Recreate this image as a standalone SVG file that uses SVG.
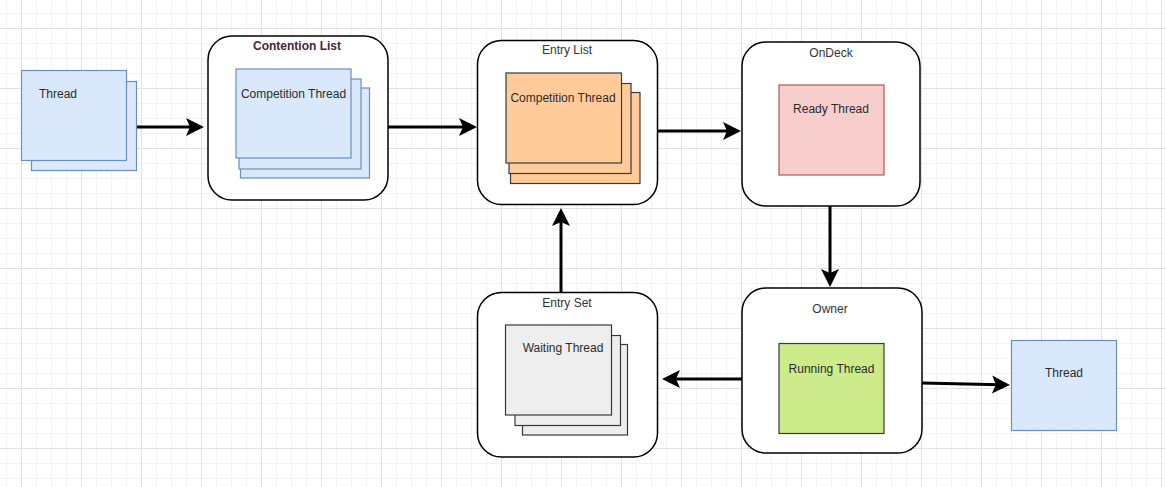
<svg xmlns="http://www.w3.org/2000/svg" width="1166" height="487" viewBox="0 0 1166 487">
<style>
text{font-family:"Liberation Sans",Arial,sans-serif;font-size:12px;fill:#2b2b2b;text-anchor:middle}
.title{fill:#333333}
.bold{font-weight:bold;fill:#4f2238}
.box{fill:#ffffff;stroke:#000000;stroke-width:1.5}
.blue{fill:#dae8fc;stroke:#6c8ebf;stroke-width:1.2}
.orange{fill:#ffcc99;stroke:#36393d;stroke-width:1.2}
.grey{fill:#eeeeee;stroke:#36393d;stroke-width:1.2}
.red{fill:#f8cecc;stroke:#b85450;stroke-width:1.2}
.green{fill:#cdeb8b;stroke:#36393d;stroke-width:1.2}
.edge{fill:none;stroke:#000000;stroke-width:3;marker-end:url(#arr)}
</style>
<defs>
<pattern id="grid" x="21" y="28" width="60" height="60" patternUnits="userSpaceOnUse">
<path d="M15.5 0V60M30.5 0V60M45.5 0V60M0 15.5H60M0 30.5H60M0 45.5H60" stroke="#f3f3f3" stroke-width="1" fill="none"/>
<path d="M0.5 0V60M0 0.5H60" stroke="#e2e2e2" stroke-width="1" fill="none"/>
</pattern>
<marker id="arr" markerUnits="userSpaceOnUse" markerWidth="20" markerHeight="20" refX="8" refY="9" orient="auto" overflow="visible">
<path d="M0,0 L18,9 L0,18 L4,9 z" fill="#000000"/>
</marker>
</defs>
<rect width="1166" height="487" fill="#ffffff"/>
<rect width="1166" height="487" fill="url(#grid)"/>

<g id="connectors">
<line class="edge" x1="137" y1="127" x2="194" y2="127"/>
<line class="edge" x1="388" y1="127" x2="467" y2="127"/>
<line class="edge" x1="658" y1="131" x2="731" y2="131"/>
<line class="edge" x1="830" y1="206" x2="830" y2="277"/>
<line class="edge" x1="561" y1="292" x2="561" y2="218"/>
<line class="edge" x1="742" y1="379" x2="672" y2="379"/>
<line class="edge" x1="922" y1="383" x2="1000" y2="384.8"/>
</g>

<g id="thread-left">
<rect class="blue" x="31.5" y="81.5" width="105" height="89"/>
<rect class="blue" x="21.5" y="70.5" width="105" height="90"/>
<text x="58" y="97.5">Thread</text>
</g>

<g id="contention-list">
<rect class="box" x="208" y="36" width="180" height="164" rx="24" ry="24"/>
<text class="bold" x="297" y="50">Contention List</text>
<rect class="blue" x="240.5" y="88" width="129" height="90"/>
<rect class="blue" x="239" y="79" width="122" height="90"/>
<rect class="blue" x="236" y="69" width="115" height="89"/>
<text x="293.5" y="97.5">Competition Thread</text>
</g>

<g id="entry-list">
<rect class="box" x="477.5" y="40.5" width="180" height="164" rx="24" ry="24"/>
<text class="title" x="567" y="54">Entry List</text>
<rect class="orange" x="510.5" y="92.5" width="129.5" height="91"/>
<rect class="orange" x="509" y="83.5" width="122" height="90"/>
<rect class="orange" x="506" y="73" width="115.5" height="90"/>
<text x="563" y="102">Competition Thread</text>
</g>

<g id="ondeck">
<rect class="box" x="742" y="42" width="178" height="164" rx="24" ry="24"/>
<text class="title" x="831" y="57">OnDeck</text>
<rect class="red" x="779" y="85" width="105" height="90"/>
<text x="831" y="113">Ready Thread</text>
</g>

<g id="entry-set">
<rect class="box" x="477.5" y="292.5" width="180" height="164.5" rx="24" ry="24"/>
<text class="title" x="567" y="307">Entry Set</text>
<rect class="grey" x="522.5" y="344.5" width="105" height="90.5"/>
<rect class="grey" x="515" y="335.5" width="105.5" height="90"/>
<rect class="grey" x="505.5" y="325" width="106" height="90"/>
<text x="563" y="352">Waiting Thread</text>
</g>

<g id="owner">
<rect class="box" x="742" y="288" width="180" height="165" rx="24" ry="24"/>
<text class="title" x="830" y="313">Owner</text>
<rect class="green" x="779" y="343.5" width="105" height="90"/>
<text x="831.5" y="373">Running Thread</text>
</g>

<g id="thread-right">
<rect class="blue" x="1011.5" y="340.5" width="105" height="90"/>
<text x="1064" y="377">Thread</text>
</g>
</svg>
